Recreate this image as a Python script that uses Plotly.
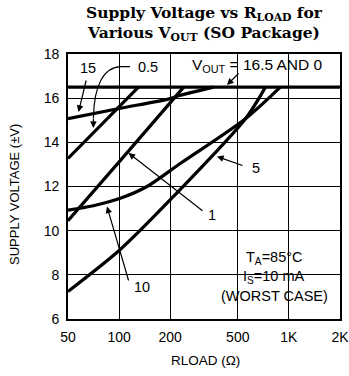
import math
import plotly.graph_objects as go

# ---- data ----
rload_16_5 = [50, 2000]
vs_16_5 = [16.5, 16.5]

rload_15 = [50, 100, 200, 229, 360]
vs_15 = [15.07, 15.53, 15.98, 16.13, 16.5]

rload_0_5 = [50, 130]
vs_0_5 = [13.27, 16.5]

rload_1 = [50, 113.5, 240]
vs_1 = [10.45, 13.6, 16.5]

rload_10 = [50, 70.5, 103.5, 146, 229, 555, 890]
vs_10 = [10.93, 11.13, 11.49, 12.0, 13.04, 15.07, 16.5]

rload_5 = [50, 101.6, 209, 555, 728]
vs_5 = [7.25, 9.15, 11.55, 15.07, 16.5]

x_tickvals = [50, 100, 200, 500, 1000, 2000]
x_ticktext = ["50", "100", "200", "500", "1K", "2K"]
y_tickvals = [6, 8, 10, 12, 14, 16, 18]

# ---- layout geometry (body margin removed by post_script) ----
OX, OY = 0, 0
W, H = 349, 376
L, R, T, B = 68, 9, 54, 57
PW, PH = W - L - R, H - T - B

def px(xp):
    return (xp - OX - L) / PW

def py(yp):
    return (H - B - (yp - OY)) / PH

LW = 3.2
fig = go.Figure()
for xs, ys in [(rload_16_5, vs_16_5), (rload_15, vs_15), (rload_0_5, vs_0_5),
               (rload_1, vs_1), (rload_10, vs_10), (rload_5, vs_5)]:
    fig.add_trace(go.Scatter(x=xs, y=ys, mode="lines",
                             line=dict(color="black", width=LW, shape="spline", smoothing=0.8),
                             showlegend=False, hoverinfo="skip"))

FONT = "Liberation Sans, Arial, sans-serif"
ann = []

def text(xp, yp, t, size=14.5, family=FONT, **kw):
    ann.append(dict(xref="paper", yref="paper", x=px(xp), y=py(yp), text=t,
                    xanchor="center", yanchor="middle",
                    showarrow=False, font=dict(family=family, size=size, color="black"), **kw))

def arrow(tx, ty, hx, hy):
    ann.append(dict(xref="paper", yref="paper", x=px(hx), y=py(hy), ax=tx - hx, ay=ty - hy,
                    axref="pixel", ayref="pixel", text="", showarrow=True,
                    arrowhead=2, arrowsize=1.1, arrowwidth=1.2, arrowcolor="black",
                    standoff=0, startstandoff=0))

text(88, 68, "15")
arrow(86.5, 79, 78.5, 112)
text(148, 67, "0.5")
text(257, 65, "V<sub>OUT</sub> = 16.5 AND 0", size=15.5)
arrow(240, 72, 227, 85)
text(256, 168, "5")
arrow(244, 166, 217, 156.5)
text(212, 215, "1")
arrow(204, 212, 128.5, 153)
text(142, 287, "10")
arrow(129, 282, 107, 206.5)
text(274, 258, "T<sub>A</sub>=85°C")
text(274, 277, "I<sub>S</sub>=10 mA")
text(274, 296, "(WORST CASE)")

# curved arrow for 0.5 (arrowhead)
arrow(93.5, 117, 93.3, 128)

# axis titles
text(14, 195, "SUPPLY VOLTAGE (±V)", size=13, textangle=-90)
text(205, 360, "RLOAD (Ω)", size=13.5)
# title
text(204, 23, "<b>Supply Voltage vs R<sub>LOAD</sub> for<br>Various V<sub>OUT</sub> (SO Package)</b>",
     size=15.5, family="DejaVu Serif, serif")

def P(xp, yp):
    return f"{px(xp):.5f},{py(yp):.5f}"

shapes = [
    dict(type="rect", xref="paper", yref="paper", x0=px(172.5), x1=1, y0=py(84), y1=1,
         fillcolor="white", line=dict(width=0), layer="between"),
    dict(type="path", xref="paper", yref="paper",
         path=f"M {P(130,66.7)} L {P(121,66.7)} C {P(104,67)} {P(94,85)} {P(93.4,118)}",
         line=dict(color="black", width=1.2)),
]

fig.update_layout(
    width=W, height=H, margin=dict(l=L, r=R, t=T, b=B, autoexpand=False),
    paper_bgcolor="white", plot_bgcolor="white",
    annotations=ann, shapes=shapes,
    xaxis=dict(type="log", range=[math.log10(50), math.log10(2000)], automargin=False,
               tickvals=x_tickvals, ticktext=x_ticktext, ticklabeloverflow="allow",
               showgrid=True, gridcolor="black", gridwidth=1,
               showline=True, linecolor="black", linewidth=1.6, mirror=True,
               ticks="outside", ticklen=4, tickcolor="rgba(0,0,0,0)",
               tickfont=dict(family=FONT, size=14, color="black")),
    yaxis=dict(range=[6, 18], tickvals=y_tickvals, automargin=False,
               showgrid=True, gridcolor="black", gridwidth=1,
               showline=True, linecolor="black", linewidth=1.6, mirror=True,
               ticks="outside", ticklen=4, tickcolor="rgba(0,0,0,0)",
               tickfont=dict(family=FONT, size=14, color="black"), zeroline=False),
)
fig.write_html("out.html", config={"displayModeBar": False},
               post_script="document.body.style.margin='0';document.body.style.overflow='hidden';")
